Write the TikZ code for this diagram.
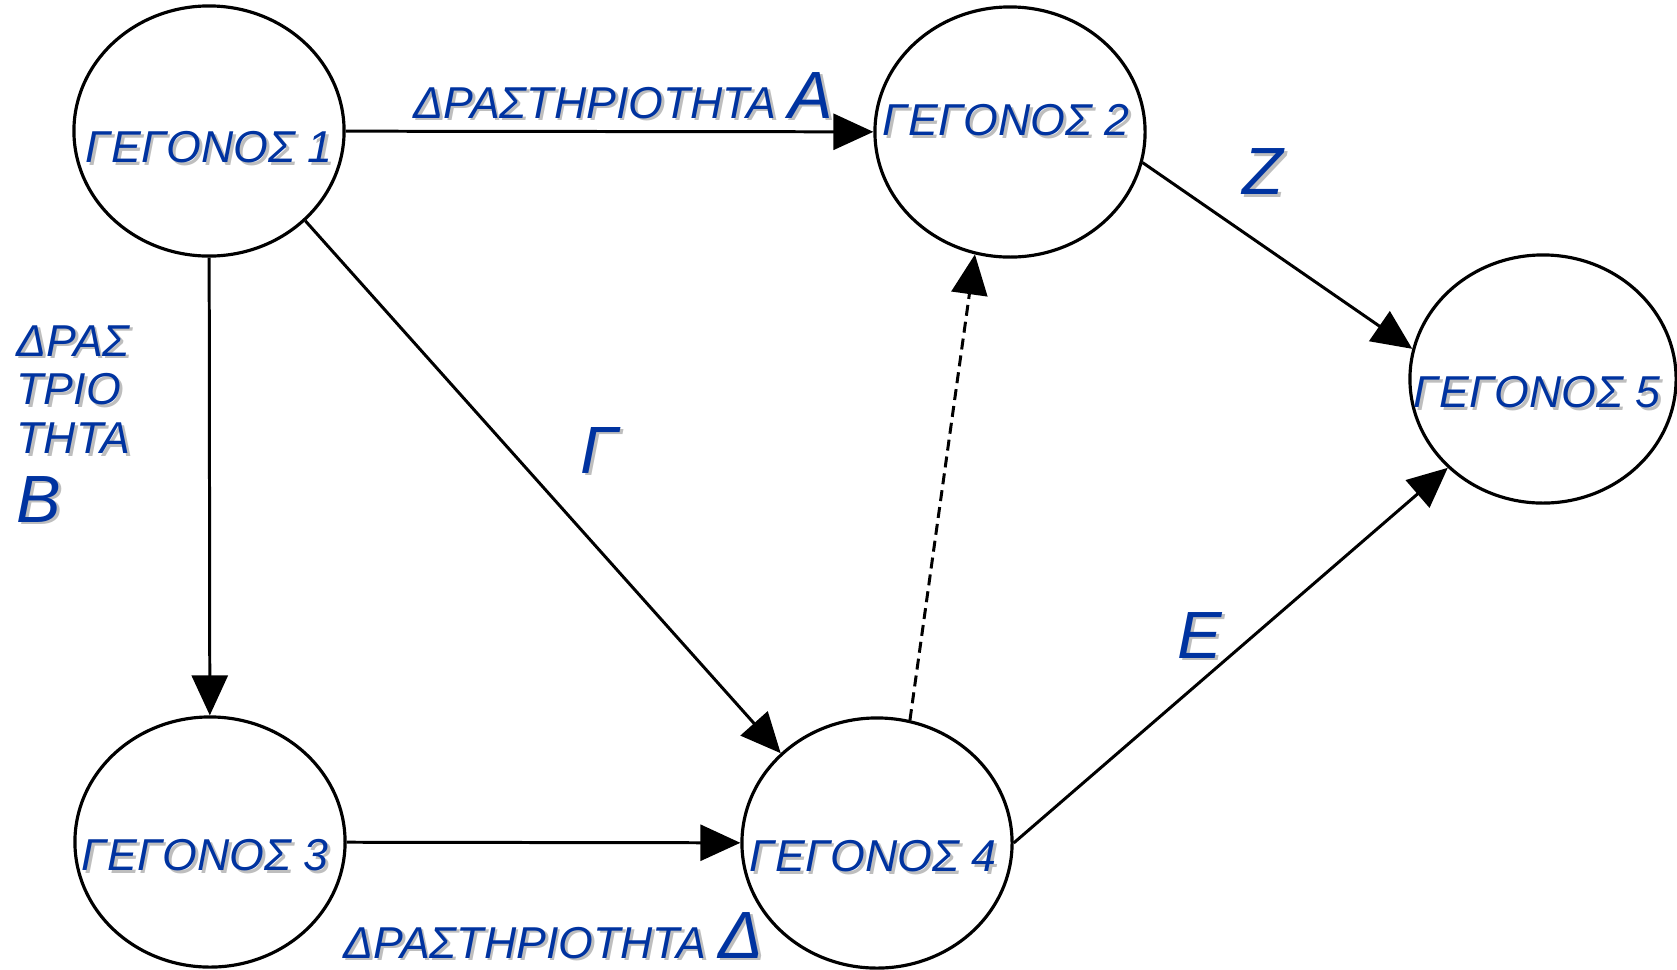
\documentclass[tikz,border=0pt]{standalone}
\usepackage{fontspec}
\setmainfont{Liberation Sans}
\usetikzlibrary{shapes.geometric,arrows.meta}
\definecolor{txtblue}{RGB}{0,51,160}
\definecolor{shadowgray}{RGB}{190,190,190}
\newcommand{\shtext}[1]{\makebox[0pt][l]{\hspace{0.8pt}\raisebox{-0.8pt}[0pt][0pt]{\color{shadowgray}#1}}#1}
\newcommand{\bigletter}[1]{{\fontsize{19}{22}\selectfont\shtext{#1}}}

\begin{document}
\begin{tikzpicture}[x=0.01cm,y=-0.01cm,
    event/.style={draw,ellipse,line width=0.9pt,minimum width=2.7cm,minimum height=2.5cm,inner sep=0pt},
    evtext/.style={text=txtblue,font=\fontsize{12.7}{15}\selectfont\itshape,inner sep=0pt},
    act/.style={text=txtblue,font=\fontsize{12.7}{15}\selectfont\itshape,inner sep=0pt},
    flow/.style={line width=0.85pt,-{Triangle[length=0.4cm,width=0.36cm]}}]
    \useasboundingbox (0,0) rectangle (1677,969);
    % events
    \node[event] (n1) at (209,131) {};
    \node[event] (n2) at (1010,132) {};
    \node[event] (n3) at (210,842) {};
    \node[event] (n4) at (877,843) {};
    \node[event,minimum width=2.66cm,minimum height=2.48cm] (n5) at (1543,379) {};
    \node[evtext] (t1) at (209,147) {\shtext{ΓΕΓΟΝΟΣ 1}};
    \node[evtext] (t2) at (1006,120) {\shtext{ΓΕΓΟΝΟΣ 2}};
    \node[evtext] (t3) at (205,855) {\shtext{ΓΕΓΟΝΟΣ 3}};
    \node[evtext] (t4) at (873,856) {\shtext{ΓΕΓΟΝΟΣ 4}};
    \node[evtext] (t5) at (1537,392) {\shtext{ΓΕΓΟΝΟΣ 5}};
    % activities
    \draw[flow] (n1) -- (n2);
    \draw[flow] (n1) -- (n3);
    \draw[flow] (n3) -- (n4);
    \draw[flow] (n1.-43.5) -- (n4.137.5);
    \draw[flow,dash pattern=on 0.11cm off 0.06cm] (n4.75) -- (n2.254);
    \draw[flow] (n2.-13) -- (n5.167);
    \draw[flow] (n4.east) -- (n5.223);
    \node[act,anchor=base west] (la) at (413,118) {\shtext{ΔΡΑΣΤΗΡΙΟΤΗΤΑ} \bigletter{Α}};
    \node[act,anchor=base west,align=left,font=\fontsize{12.7}{13.9}\selectfont\itshape] (lb) at (16,522) {\shtext{ΔΡΑΣ}\\\shtext{ΤΡΙΟ}\\\shtext{ΤΗΤΑ}\\[5.5pt]\bigletter{Β}};
    \node[act] (lg) at (600,450) {\bigletter{Γ}};
    \node[act,anchor=base west] (ld) at (343,958) {\shtext{ΔΡΑΣΤΗΡΙΟΤΗΤΑ} \bigletter{Δ}};
    \node[act] (le) at (1200,635) {\bigletter{Ε}};
    \node[act] (lz) at (1263,172) {\bigletter{Ζ}};
\end{tikzpicture}
\end{document}
